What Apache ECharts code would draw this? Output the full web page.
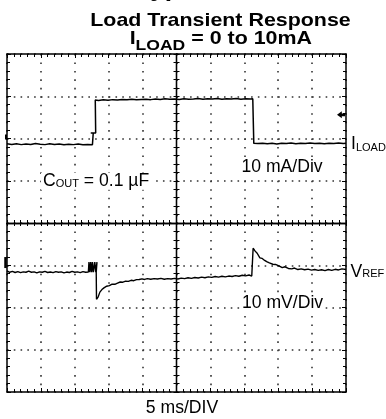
<!DOCTYPE html>
<html>
<head>
<meta charset="utf-8">
<script src="https://cdn.jsdelivr.net/npm/echarts@6/dist/echarts.min.js"></script>
<style>
  html, body { margin: 0; padding: 0; background: #fff; }
  #chart { width: 386px; height: 419px; }
</style>
</head>
<body>
<div id="chart"></div>
<script>
// Scope screen: 10 horizontal divisions at 5 ms/div, 8 vertical divisions
const msPerDiv = 5;
const timeDivs = 10;
const vertDivs = 8;

// Load current trace [time ms, current mA]
const iLoad = [
  [0.0, 0.05], [0.7, -0.1], [1.4, 0.05], [2.1, -0.15], [2.8, 0.0], [3.5, -0.1],
  [4.2, 0.1], [4.9, -0.05], [5.6, -0.15], [6.3, 0.05], [7.0, -0.1], [7.7, 0.0],
  [8.4, -0.2], [9.1, -0.05], [9.8, -0.15], [10.5, 0.0], [11.2, -0.2], [11.9, -0.1],
  [12.6, -0.15], [12.72, -0.1], [12.72, 2.6], [12.35, 2.6], [13.08, 2.6], [12.98, 2.6],
  [13.02, 10.4], [13.5, 10.3], [14.2, 10.45], [14.9, 10.35], [15.6, 10.5], [16.3, 10.4],
  [17.0, 10.55], [17.7, 10.45], [18.4, 10.6], [19.1, 10.45], [19.8, 10.55], [20.5, 10.6],
  [21.2, 10.5], [21.9, 10.65], [22.6, 10.55], [23.3, 10.7], [24.0, 10.6], [24.7, 10.65],
  [25.4, 10.55], [26.1, 10.7], [26.8, 10.6], [27.5, 10.65], [28.2, 10.75], [28.9, 10.6],
  [29.6, 10.7], [30.3, 10.65], [31.0, 10.75], [31.7, 10.6], [32.4, 10.7], [33.1, 10.65],
  [33.8, 10.75], [34.5, 10.6], [35.2, 10.7], [35.9, 10.65], [36.25, 10.7],
  [36.4, 0.15], [37.0, 0.1], [37.7, 0.2], [38.4, 0.05], [39.1, 0.15], [39.8, 0.0],
  [40.5, 0.2], [41.2, 0.1], [41.9, 0.25], [42.6, 0.05], [43.3, 0.2], [44.0, 0.1],
  [44.7, 0.25], [45.4, 0.1], [46.1, 0.2], [46.8, 0.05], [47.5, 0.2], [48.2, 0.1],
  [48.9, 0.25], [49.6, 0.1], [50.0, 0.15]
];

// Reference output deviation [time ms, deviation mV]
const vRef = [
  [0.0, 0.05], [0.4, -0.3], [0.8, -0.1], [1.2, -0.35], [1.6, -0.15], [2.0, -0.4],
  [2.4, -0.2], [2.8, -0.3], [3.2, -0.05], [3.6, -0.3], [4.0, -0.2], [4.4, -0.45],
  [4.8, -0.2], [5.2, -0.3], [5.6, -0.1], [6.0, -0.35], [6.4, -0.25], [6.8, -0.4],
  [7.2, -0.15], [7.6, -0.3], [8.0, -0.2], [8.4, -0.45], [8.8, -0.25], [9.2, -0.35],
  [9.6, -0.1], [10.0, -0.3], [10.4, -0.2], [10.8, -0.4], [11.2, -0.15], [11.6, -0.3],
  [12.0, -0.25],
  // switching burst at the load step
  [12.09, -0.3], [12.09, 2.1], [12.22, 2.1], [12.22, -0.3], [12.35, -0.3], [12.35, 2.1],
  [12.48, 2.1], [12.48, -0.3], [12.61, -0.3], [12.61, 2.1], [12.74, 2.1], [12.74, -0.3],
  [12.95, -0.3], [12.95, 2.1], [12.74, 2.1], [13.1, 2.1], [13.1, -0.3], [13.27, -0.3],
  [13.27, 2.1], [13.12, 2.1], [13.16, -0.3],
  // undershoot and recovery under load
  [13.2, -6.7], [13.45, -6.1], [13.7, -5.0], [14.0, -4.4], [14.3, -4.0], [14.7, -3.6],
  [15.1, -3.45], [15.5, -3.1], [15.9, -3.15], [16.3, -2.85], [16.7, -2.6], [17.1, -2.65],
  [17.5, -2.4], [17.9, -2.45], [18.3, -2.2], [18.7, -2.3], [19.1, -2.05], [19.5, -2.0],
  [19.9, -1.85], [20.3, -2.0], [20.7, -1.8], [21.2, -1.95], [21.7, -1.8], [22.2, -1.9],
  [22.7, -1.75], [23.2, -1.95], [23.7, -1.8], [24.2, -1.9], [24.7, -1.75], [25.2, -1.9],
  [25.7, -1.7], [26.2, -1.8], [26.7, -1.6], [27.2, -1.75], [27.7, -1.55], [28.2, -1.65],
  [28.7, -1.45], [29.2, -1.6], [29.7, -1.4], [30.2, -1.5], [30.7, -1.3], [31.2, -1.45],
  [31.7, -1.25], [32.2, -1.4], [32.7, -1.2], [33.2, -1.3], [33.7, -1.1], [34.2, -1.25],
  [34.7, -1.0], [35.2, -1.15], [35.7, -0.95], [36.1, -1.2], [36.25, -1.3],
  // overshoot when the load is released
  [36.3, 5.4], [36.6, 4.7], [36.9, 4.2], [37.3, 3.1], [37.6, 3.0], [38.0, 2.5],
  [38.3, 2.2], [38.7, 1.9], [39.2, 1.6], [39.6, 1.55], [40.1, 1.2], [40.6, 0.8],
  [41.0, 1.0], [41.5, 0.6], [42.0, 0.5], [42.4, 0.7], [42.9, 0.35], [43.4, 0.5],
  [43.9, 0.3], [44.4, 0.45], [44.9, 0.2], [45.4, 0.35], [45.9, 0.15], [46.4, 0.3],
  [46.9, 0.1], [47.4, 0.35], [47.9, 0.15], [48.4, 0.4], [48.9, 0.25], [49.4, 0.5],
  [50.0, 0.35]
];

// Channel scaling and on-screen offsets (in divisions from the bottom)
const iLoadPerDiv = 10;   // mA/div
const vRefPerDiv = 10;    // mV/div
const iLoadZeroDiv = 5.87;
const vRefZeroDiv = 2.864;
const iLoadTrigLevel = 6.9;   // mA, right-edge marker
const iLoadRefMark = 1.66;    // mA, left-edge marker
const vRefRefMark = 2.0;      // mV, left-edge marker

const FONT = "'Liberation Sans', Arial, Helvetica, sans-serif";
const measureCtx = document.createElement('canvas').getContext('2d');
function textWidth(t, size, weight) {
  measureCtx.font = `${weight} ${size}px ${FONT}`;
  return measureCtx.measureText(t).width;
}
// Lay out text pieces left to right on a shared baseline
function textRun(pieces, o) {
  const widths = pieces.map(p => textWidth(p.text, p.size, p.weight || 'normal'));
  const total = widths.reduce((a, b) => a + b, 0);
  let cx = o.align === 'center' ? -total / 2 : 0;
  const children = [];
  if (o.bg) {
    children.push({
      type: 'rect', z: 10,
      shape: { x: cx - o.bg[0], y: -o.bg[1], width: total + 2 * o.bg[0], height: o.bg[1] + o.bg[2] },
      style: { fill: '#fff' }
    });
  }
  pieces.forEach((p, i) => {
    children.push({
      type: 'text', z: 11,
      x: cx, y: (p.dy || 0) - 0.31 * p.size,
      style: {
        text: p.text, fill: '#000',
        font: `${p.weight || 'normal'} ${p.size}px ${FONT}`,
        textAlign: 'left', textVerticalAlign: 'middle'
      }
    });
    cx += widths[i];
  });
  return { type: 'group', x: o.x, y: o.baseline, scaleX: o.scaleX || 1, children };
}

const ink = '#000';
const dotColor = '#333';
const tickLine = { color: ink, width: 1 };
const halfW = 339 / 2;
const halfH = 338 / 2;

function frameX(extra) {
  return Object.assign({
    type: 'value', min: 0, max: msPerDiv * timeDivs, interval: msPerDiv,
    axisLine: { onZero: false, lineStyle: { color: ink, width: 1.5 } },
    axisTick: { inside: true, length: 4, lineStyle: tickLine },
    minorTick: { show: true, splitNumber: 5, length: 3, lineStyle: tickLine },
    axisLabel: { show: false },
    splitLine: { show: false }
  }, extra);
}
function frameY(extra) {
  return Object.assign({
    type: 'value', min: 0, max: vertDivs, interval: 1,
    axisLine: { onZero: false, lineStyle: { color: ink, width: 1.5 } },
    axisTick: { inside: true, length: 4, lineStyle: tickLine },
    minorTick: { show: true, splitNumber: 5, length: 3, lineStyle: tickLine },
    axisLabel: { show: false },
    splitLine: { show: false }
  }, extra);
}
const centerLine = { onZero: false, lineStyle: { color: ink, width: 1.3 } };

const chart = echarts.init(document.getElementById('chart'), null, { renderer: 'canvas' });

chart.setOption({
  animation: false,
  backgroundColor: '#fff',
  grid: { left: 7, top: 54, right: 40, bottom: 27, outerBoundsMode: 'none' },
  xAxis: [
    frameX({ position: 'bottom', splitLine: { show: true, lineStyle: { color: dotColor, width: 1.6, type: [1.6, 6.85] } } }),
    frameX({ position: 'top' }),
    // centre graticule line, ticks on both sides
    frameX({ position: 'bottom', offset: -halfH, axisLine: centerLine, axisTick: { inside: true, length: 3, lineStyle: tickLine } }),
    frameX({ position: 'bottom', offset: -halfH, axisLine: centerLine, axisTick: { inside: false, length: 3, lineStyle: tickLine } })
  ],
  yAxis: [
    frameY({ position: 'left', splitLine: { show: true, lineStyle: { color: dotColor, width: 1.6, type: [1.6, 5.18] } } }),
    frameY({ position: 'right' }),
    frameY({ position: 'left', offset: -halfW, axisLine: centerLine, axisTick: { inside: true, length: 3, lineStyle: tickLine } }),
    frameY({ position: 'left', offset: -halfW, axisLine: centerLine, axisTick: { inside: false, length: 3, lineStyle: tickLine } }),
    { type: 'value', min: -iLoadZeroDiv * iLoadPerDiv, max: (vertDivs - iLoadZeroDiv) * iLoadPerDiv, show: false },
    { type: 'value', min: -vRefZeroDiv * vRefPerDiv, max: (vertDivs - vRefZeroDiv) * vRefPerDiv, show: false }
  ],
  series: [
    {
      name: 'ILOAD', type: 'line', xAxisIndex: 0, yAxisIndex: 4,
      data: iLoad, symbol: 'none', z: 5,
      lineStyle: { color: ink, width: 1.5 },
      markPoint: {
        silent: true, label: { show: false },
        data: [
          { coord: [50, iLoadTrigLevel], symbol: 'path://M0,5 L6,0 L6,3 L10,3 L10,7 L6,7 L6,10 Z', symbolSize: [8, 7], symbolOffset: [-5, 0], itemStyle: { color: ink } },
          { coord: [0, iLoadRefMark], symbol: 'rect', symbolSize: [2, 5], symbolOffset: [-1, 0], itemStyle: { color: ink } }
        ]
      }
    },
    {
      name: 'VREF', type: 'line', xAxisIndex: 0, yAxisIndex: 5,
      data: vRef, symbol: 'none', z: 5,
      lineStyle: { color: ink, width: 1.4 },
      markPoint: {
        silent: true, label: { show: false },
        data: [
          { coord: [0, vRefRefMark], symbol: 'rect', symbolSize: [2.5, 11], symbolOffset: [-1.5, 0], itemStyle: { color: ink } }
        ]
      }
    }
  ],
  graphic: [
    textRun([{ text: 'Typical Characteristics', size: 22, weight: 'bold' }], { x: 136, baseline: -3, scaleX: 1.2 }),
    textRun([{ text: 'Load Transient Response', size: 17.7, weight: 'bold' }], { x: 220.5, baseline: 26.7, align: 'center', scaleX: 1.21 }),
    textRun([
      { text: 'I', size: 17.7, weight: 'bold' },
      { text: 'LOAD', size: 14.5, weight: 'bold', dy: 5 },
      { text: ' = 0 to 10mA', size: 17.7, weight: 'bold' }
    ], { x: 220.8, baseline: 45, align: 'center', scaleX: 1.21 }),
    textRun([{ text: 'I', size: 17.6 }, { text: 'LOAD', size: 11, dy: 1 }], { x: 351, baseline: 150 }),
    textRun([{ text: 'V', size: 17.6 }, { text: 'REF', size: 11, dy: 0.4 }], { x: 350.5, baseline: 277.3 }),
    textRun([{ text: '10 mA/Div', size: 17.6 }], { x: 241.5, baseline: 172.5, bg: [2, 14, 3] }),
    textRun([
      { text: 'C', size: 17.6 },
      { text: 'OUT', size: 11, dy: 0.5 },
      { text: ' = 0.1 \u00b5F', size: 17.6 }
    ], { x: 43, baseline: 186.7, bg: [2, 14, 3] }),
    textRun([{ text: '10 mV/Div', size: 17.6 }], { x: 242, baseline: 309, bg: [2, 14, 3] }),
    textRun([{ text: '5 ms/DIV', size: 17.6 }], { x: 182, baseline: 413.3, align: 'center' })
  ]
});
</script>
</body>
</html>
